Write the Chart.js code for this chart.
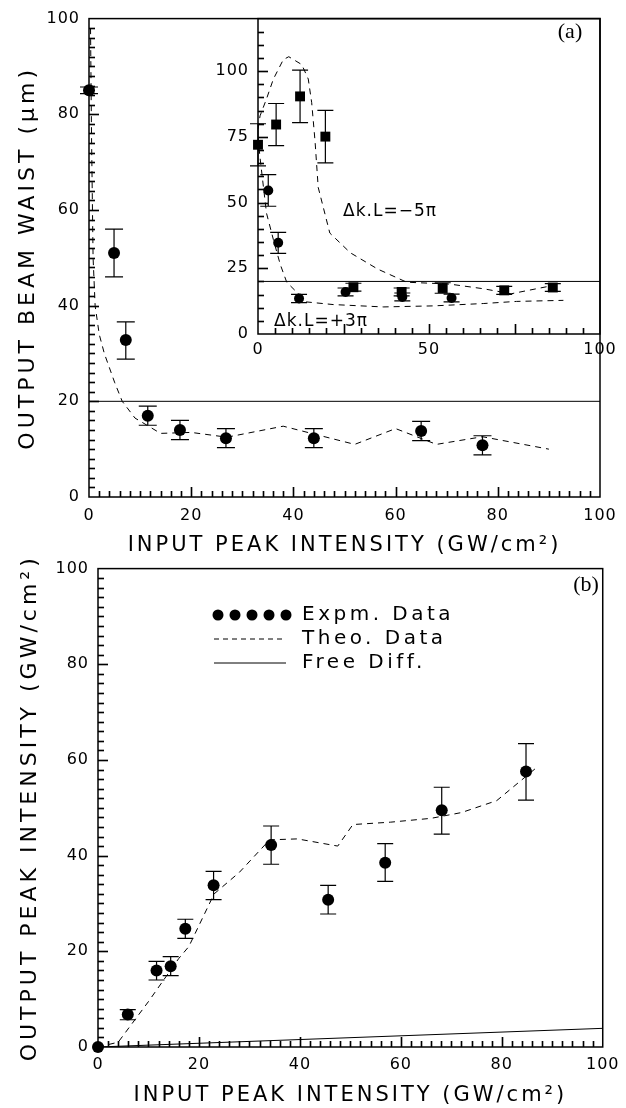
<!DOCTYPE html>
<html>
<head>
<meta charset="utf-8">
<script src="https://cdn.jsdelivr.net/npm/chart.js"></script>
<style>
  html, body { margin: 0; padding: 0; background: #fff; }
  body { width: 626px; height: 1108px; position: relative; overflow: hidden; }
  canvas { position: absolute; }
  #cA { left: 0; top: 0; width: 626px; height: 560px; }
  #cI { left: 200px; top: 0; width: 426px; height: 370px; }
  #cB { left: 0; top: 550px; width: 626px; height: 558px; }
</style>
</head>
<body>
<canvas id="cA" width="626" height="560"></canvas>
<canvas id="cI" width="426" height="370"></canvas>
<canvas id="cB" width="626" height="558"></canvas>
<script>
// ---- panel (a): output beam waist vs input intensity
const waistX  = [0, 4.9, 7.2, 11.5, 17.8, 26.8, 44, 65, 77];
const waistY  = [85, 51, 32.8, 17, 14, 12.3, 12.3, 13.8, 10.8];
const waistLo = [84.3, 46, 28.8, 15, 12, 10.3, 10.3, 11.8, 8.8];
const waistHi = [85.7, 56, 36.6, 19, 16, 14.3, 14.3, 15.8, 12.8];
const waistTheoX = [0.3, 0.5, 0.8, 1.2, 2, 3, 5, 6.5, 9, 14, 20, 27, 38, 52, 60, 68, 77, 90];
const waistTheoY = [98, 75, 50, 40, 34, 30, 24, 20, 16.5, 13.3, 13.5, 12.5, 14.8, 11, 14.3, 11, 12.6, 10];
const freeWaistX = [0, 100];
const freeWaistY = [20, 20];

// ---- inset of (a): two phase mismatches
const sqX   = [0, 5.3, 12.3, 19.7, 27.9, 42, 54, 72, 86.2];
const sqY   = [72, 79.7, 90.4, 75.1, 17.8, 16, 17.5, 16.6, 17.7];
const sqErr = [8, 8, 10, 10, 1.5, 1.5, 2, 1.5, 1.5];
const ciX   = [3, 5.9, 12, 25.6, 42.2, 56.6];
const ciY   = [54.6, 34.7, 13.5, 16, 14.1, 13.7];
const ciErr = [6, 4, 1.6, 1.5, 1.5, 1.5];
const minus5X = [0, 0.6, 2.5, 4.5, 7.4, 9, 12.8, 14.7, 15.7, 16.7, 17.6, 21, 27, 35, 43.5, 56, 66, 74, 86];
const minus5Y = [78, 83, 89.5, 97, 104.4, 105.5, 102.5, 97, 88, 73, 55.8, 38.4, 30.9, 24.7, 19.7, 19, 17.2, 15.3, 18.4];
const plus3X = [0, 0.6, 1.6, 2.5, 4.5, 6.5, 8.4, 14.2, 22, 36.6, 51.3, 66, 75.6, 89.3];
const plus3Y = [75, 67, 55.8, 45.9, 35.9, 26.5, 19.7, 12.2, 11.2, 10.3, 10.7, 11.6, 12.4, 12.8];
const freeInsetX = [0, 100];
const freeInsetY = [20, 20];

// ---- panel (b): output peak intensity
const outX  = [0, 5.9, 11.6, 14.4, 17.3, 22.9, 34.3, 45.6, 56.9, 68.1, 84.8];
const outY  = [0, 6.8, 16, 16.9, 24.7, 33.8, 42.2, 30.8, 38.5, 49.5, 57.6];
const outLo = [null, 5.7, 14, 14.9, 22.7, 30.8, 38.2, 27.8, 34.6, 44.5, 51.6];
const outHi = [null, 7.8, 17.9, 18.9, 26.7, 36.7, 46.2, 33.8, 42.5, 54.3, 63.4];
const outTheoX = [0, 4, 10, 16, 18, 23, 28, 34, 39.5, 47.5, 50.5, 58, 66, 72, 79, 87];
const outTheoY = [0, 1, 9.5, 18.5, 21, 32, 36.5, 43.3, 43.5, 42, 46.5, 47, 47.8, 49, 51.5, 58.5];
const freeOutX = [0, 100];
const freeOutY = [0, 3.9];

// tick labels
const mainTicks   = [0, 20, 40, 60, 80, 100];
const insetXTicks = [0, 50, 100];
const insetYTicks = [0, 25, 50, 75, 100];

const pts = (xs, ys) => xs.map((x, i) => ({ x: x, y: ys[i] }));

Chart.defaults.font.family = '"DejaVu Sans", sans-serif';
Chart.defaults.color = '#000';

// titles get a wider letter spacing, like the plotter font
function wideTitle(scale, gap) {
  if (scale._wide) return;
  scale._wide = true;
  const orig = scale.drawTitle;
  scale.drawTitle = function () {
    const c = this.ctx, old = c.letterSpacing;
    c.letterSpacing = gap;
    orig.call(this);
    c.letterSpacing = old;
  };
}

// inward minor/major ticks on the left and bottom axes
function drawTicks(chart, t, lw) {
  const { ctx, chartArea: a, scales: { x, y } } = chart;
  const isMaj = (v, m) => Math.abs(v / m - Math.round(v / m)) < 1e-6;
  ctx.save();
  ctx.setLineDash([]);
  ctx.strokeStyle = '#000';
  ctx.lineWidth = lw;
  for (let v = t.xMinor; v < x.max - 1e-6; v += t.xMinor) {
    const px = Math.round(x.getPixelForValue(v)) + 0.5;
    ctx.beginPath();
    ctx.moveTo(px, a.bottom);
    ctx.lineTo(px, a.bottom - (isMaj(v, t.xMajor) ? t.major : t.minor));
    ctx.stroke();
  }
  for (let v = t.yMinor; v < y.max - 1e-6; v += t.yMinor) {
    const py = Math.round(y.getPixelForValue(v)) + 0.5;
    ctx.beginPath();
    ctx.moveTo(a.left, py);
    ctx.lineTo(a.left + (isMaj(v, t.yMajor) ? t.major : t.minor), py);
    ctx.stroke();
  }
  ctx.restore();
}

// ticks, error bars (after datasets) and the frame (after everything)
function marks(t, cap, sets) {
  return {
    id: 'marks',
    beforeDraw(chart) { chart.ctx.letterSpacing = '1px'; },
    afterDatasetsDraw(chart) {
      const { ctx, scales: { x, y } } = chart;
      drawTicks(chart, t, 1.2);
      ctx.save();
      ctx.strokeStyle = '#000';
      ctx.lineWidth = 1.2;
      sets.forEach(s => {
        s.xs.forEach((xv, i) => {
          if (s.lo[i] == null) return;
          const px = x.getPixelForValue(xv);
          const p1 = y.getPixelForValue(s.lo[i]);
          const p2 = y.getPixelForValue(s.hi[i]);
          ctx.beginPath();
          ctx.moveTo(px, p1); ctx.lineTo(px, p2);
          ctx.moveTo(px - cap, p1); ctx.lineTo(px + cap, p1);
          ctx.moveTo(px - cap, p2); ctx.lineTo(px + cap, p2);
          ctx.stroke();
        });
      });
      ctx.restore();
    },
    afterDraw(chart) {
      const { ctx, chartArea: a } = chart;
      drawTicks(chart, t, 1.5);
      ctx.save();
      ctx.strokeStyle = '#000';
      ctx.lineWidth = 1.5;
      ctx.strokeRect(a.left, a.top, a.right - a.left, a.bottom - a.top);
      ctx.restore();
    }
  };
}

// free text (panel letters, curve labels, legend)
function notes(o) {
  return {
    id: 'notes',
    afterDraw(chart) {
      const ctx = chart.ctx;
      ctx.save();
      ctx.fillStyle = '#000';
      ctx.strokeStyle = '#000';
      (o.items || []).forEach(t => {
        ctx.font = t.font;
        ctx.letterSpacing = t.spacing || '0px';
        ctx.textAlign = 'center';
        ctx.textBaseline = 'middle';
        ctx.fillText(t.text, t.x, t.y);
      });
      if (o.legend) {
        const L = o.legend;
        ctx.letterSpacing = '0px';
        L.dots.forEach(dx => { ctx.beginPath(); ctx.arc(dx, L.y[0], 5.5, 0, Math.PI * 2); ctx.fill(); });
        ctx.lineWidth = 1;
        ctx.setLineDash([5, 4]);
        ctx.beginPath(); ctx.moveTo(L.x0, L.y[1]); ctx.lineTo(L.x1, L.y[1]); ctx.stroke();
        ctx.setLineDash([]);
        ctx.beginPath(); ctx.moveTo(L.x0, L.y[2]); ctx.lineTo(L.x1, L.y[2]); ctx.stroke();
        ctx.font = '20px "DejaVu Sans"';
        ctx.letterSpacing = '3.5px';
        ctx.textAlign = 'left';
        ctx.textBaseline = 'middle';
        L.labels.forEach((s, i) => ctx.fillText(s, L.tx, L.y[i]));
      }
      ctx.restore();
    }
  };
}

function axes(o) {
  return {
    x: {
      type: 'linear', min: 0, max: 100,
      grid: { display: false, drawTicks: false }, border: { display: false },
      afterBuildTicks: s => { s.ticks = o.xTicks.map(v => ({ value: v })); },
      afterFit: s => { s.height = o.xH; wideTitle(s, '3px'); },
      ticks: { font: { size: 16 }, padding: o.xPad, maxRotation: 0 },
      title: o.xTitle ? { display: true, text: o.xTitle, font: { size: 21 }, padding: { top: 0, bottom: o.xTitlePad } } : { display: false }
    },
    y: {
      type: 'linear', min: 0, max: o.yMax,
      grid: { display: false, drawTicks: false }, border: { display: false },
      afterBuildTicks: s => { s.ticks = o.yTicks.map(v => ({ value: v })); },
      afterFit: s => { s.width = o.yW; wideTitle(s, '4px'); },
      ticks: { font: { size: 16 }, padding: 9 },
      title: o.yTitle ? { display: true, text: o.yTitle, font: { size: 22 }, padding: { top: o.yTitlePad, bottom: 0 } } : { display: false }
    }
  };
}

const dots = (data, r, style) => ({
  data: data, showLine: false, pointRadius: r, pointHoverRadius: r, pointStyle: style || 'circle',
  backgroundColor: '#000', borderColor: '#000', borderWidth: 0, clip: false
});
const curve = (data, dash) => ({
  data: data, showLine: true, pointRadius: 0, borderColor: '#000', borderWidth: 1,
  borderDash: dash || [], tension: 0, fill: false
});

const base = {
  responsive: false, animation: false, events: [],
  plugins: { legend: { display: false }, tooltip: { enabled: false } }
};
const tickA = { xMinor: 2, xMajor: 20, yMinor: 2, yMajor: 20, minor: 6, major: 10 };

// panel (a)
new Chart(document.getElementById('cA'), {
  type: 'scatter',
  data: { datasets: [
    dots(pts(waistX, waistY), 6),
    curve(pts(waistTheoX, waistTheoY), [6, 5]),
    curve(pts(freeWaistX, freeWaistY))
  ] },
  options: Object.assign({}, base, {
    layout: { padding: { top: 11, right: 26, left: 0, bottom: 0 }, autoPadding: false },
    scales: axes({ xTicks: mainTicks, yTicks: mainTicks, yMax: 100, xH: 63, yW: 89, xPad: 9,
      xTitle: 'INPUT PEAK INTENSITY (GW/cm²)', xTitlePad: 2,
      yTitle: 'OUTPUT BEAM WAIST (μm)', yTitlePad: 15 })
  }),
  plugins: [marks(tickA, 9, [{ xs: waistX, lo: waistLo, hi: waistHi }]),
    notes({ items: [{ text: '(a)', x: 570, y: 32, font: '22px "Liberation Serif"' }] })]
});

// inset of (a)
new Chart(document.getElementById('cI'), {
  type: 'scatter',
  data: { datasets: [
    dots(pts(sqX, sqY), 7, 'rect'),
    dots(pts(ciX, ciY), 5),
    curve(pts(minus5X, minus5Y), [6, 5]),
    curve(pts(plus3X, plus3Y), [6, 5]),
    curve(pts(freeInsetX, freeInsetY))
  ] },
  options: Object.assign({}, base, {
    layout: { padding: { top: 11, right: 26, left: 0, bottom: 0 }, autoPadding: false },
    scales: axes({ xTicks: insetXTicks, yTicks: insetYTicks, yMax: 120, xH: 36, yW: 58, xPad: 6 })
  }),
  plugins: [
    marks({ xMinor: 5, xMajor: 25, yMinor: 5, yMajor: 25, minor: 6, major: 10 }, 8, [
      { xs: sqX, lo: sqY.map((v, i) => v - sqErr[i]), hi: sqY.map((v, i) => v + sqErr[i]) },
      { xs: ciX, lo: ciY.map((v, i) => v - ciErr[i]), hi: ciY.map((v, i) => v + ciErr[i]) }
    ]),
    notes({ items: [
      { text: 'Δk.L=−5π', x: 190, y: 212, font: '17px "DejaVu Sans"', spacing: '1px' },
      { text: 'Δk.L=+3π', x: 121, y: 322, font: '17px "DejaVu Sans"', spacing: '1px' }
    ] })
  ]
});

// panel (b)
new Chart(document.getElementById('cB'), {
  type: 'scatter',
  data: { datasets: [
    dots(pts(outX, outY), 6),
    curve(pts(outTheoX, outTheoY), [6, 5]),
    curve(pts(freeOutX, freeOutY))
  ] },
  options: Object.assign({}, base, {
    layout: { padding: { top: 7, right: 16, left: 0, bottom: 0 }, autoPadding: false },
    scales: axes({ xTicks: mainTicks, yTicks: mainTicks, yMax: 100, xH: 61, yW: 98, xPad: 8,
      xTitle: 'INPUT PEAK INTENSITY (GW/cm²)', xTitlePad: 0,
      yTitle: 'OUTPUT PEAK INTENSITY (GW/cm²)', yTitlePad: 17 })
  }),
  plugins: [marks(tickA, 8, [{ xs: outX, lo: outLo, hi: outHi }]),
    notes({
      items: [{ text: '(b)', x: 586, y: 35, font: '22px "Liberation Serif"' }],
      legend: { dots: [218, 235, 252, 269, 286], x0: 214, x1: 286, tx: 302, y: [65, 89, 113],
        labels: ['Expm. Data', 'Theo. Data', 'Free Diff.'] }
    })]
});
</script>
</body>
</html>
